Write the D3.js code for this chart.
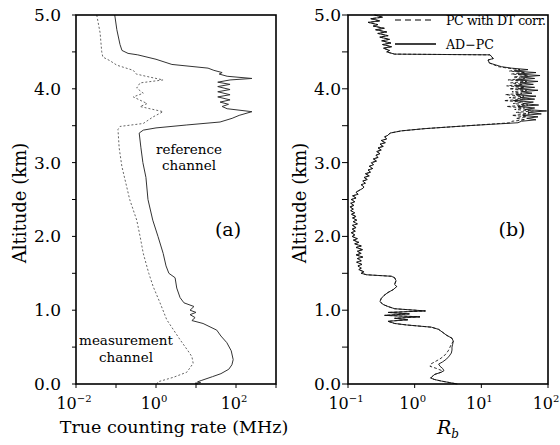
<!DOCTYPE html>
<html><head><meta charset="utf-8">
<script src="https://cdn.jsdelivr.net/npm/d3@7"></script>
<style>body{margin:0;background:#fff}svg{display:block}text{font-family:"DejaVu Serif","Liberation Serif",serif;fill:#000}</style>
</head><body>
<svg id="c" width="560" height="445"></svg>
<script>
// ---------- DATA ----------
// Panel (a): [altitude km, true counting rate MHz]
const referenceChannel = [
[5.00,0.093],[4.80,0.105],[4.60,0.126],[4.52,0.141],[4.48,0.20],[4.46,0.35],[4.40,1.0],[4.33,2.5],
[4.28,20],[4.25,28],[4.22,45],[4.20,38],[4.17,60],[4.14,250],[4.12,71],[4.09,35],[4.06,71],[4.03,35],
[3.99,71],[3.96,35],[3.92,71],[3.89,35],[3.85,71],[3.82,40],[3.79,65],[3.76,45],[3.73,60],[3.69,250],
[3.64,120],[3.60,80],[3.55,40],[3.51,5.9],[3.47,1.0],[3.44,0.48],[3.40,0.38],[3.20,0.42],[3.00,0.47],
[2.80,0.56],[2.50,0.63],[2.22,0.83],[2.00,1.12],[1.77,1.51],[1.60,1.78],[1.50,2.1],[1.44,3.0],[1.30,3.3],
[1.17,4.0],[1.10,5.0],[1.05,8.9],[1.00,7.1],[0.97,10],[0.94,7.1],[0.90,9.5],[0.86,7.9],[0.82,15],
[0.73,33],[0.65,42],[0.56,59],[0.45,76],[0.33,85],[0.26,79],[0.20,66],[0.14,42],[0.10,26],[0.05,14],
[0.03,11],[0.02,13],[0.01,9.5],[0.00,11]
];
const measurementChannel = [
[5.00,0.033],[4.76,0.040],[4.50,0.044],[4.43,0.047],[4.38,0.071],[4.32,0.105],[4.25,0.27],[4.20,0.32],
[4.17,0.56],[4.12,1.5],[4.08,0.40],[4.01,0.33],[3.94,0.48],[3.89,0.27],[3.80,0.60],[3.76,0.40],
[3.69,1.5],[3.62,0.85],[3.53,0.48],[3.49,0.126],[3.45,0.112],[3.20,0.12],[2.95,0.14],[2.50,0.22],
[2.22,0.33],[2.00,0.40],[1.77,0.48],[1.50,0.66],[1.32,0.85],[1.10,1.26],[0.87,1.86],[0.60,4.0],
[0.45,6.3],[0.37,7.9],[0.28,8.5],[0.16,5.9],[0.09,2.7],[0.03,1.12],[0.00,1.05]
];
// Panel (b): [altitude km, Rb]
const adPC = [
[5.00,0.25],[4.97,0.33],[4.95,0.22],[4.92,0.30],[4.90,0.20],[4.87,0.28],[4.85,0.24],[4.82,0.35],[4.80,0.26],
[4.77,0.38],[4.75,0.28],[4.72,0.40],[4.70,0.30],[4.67,0.42],[4.65,0.32],[4.62,0.44],[4.60,0.33],[4.57,0.45],
[4.55,0.34],[4.52,0.42],[4.50,0.38],[4.47,0.50],[4.46,13.5],[4.41,15.1],[4.39,12.6],[4.35,13.2],[4.30,20.0],
[4.28,28.2],[4.26,50.1],[4.24,31.6],[4.22,66.1],[4.20,35.5],[4.18,75.9],[4.16,39.8],[4.14,63.1],[4.12,33.1],
[4.10,70.8],[4.08,38.0],[4.06,60.3],[4.04,31.6],[4.02,63.1],[4.00,35.5],[3.98,70.8],[3.96,39.8],[3.94,57.5],
[3.92,33.1],[3.90,66.1],[3.88,38.0],[3.86,63.1],[3.84,30.2],[3.82,60.3],[3.80,41.7],[3.78,72.4],[3.76,35.5],
[3.74,63.1],[3.72,44.7],[3.70,95.5],[3.68,50.1],[3.66,79.4],[3.64,41.7],[3.62,70.8],[3.60,47.9],[3.58,66.1],
[3.56,39.8],[3.54,35.5],[3.50,6.31],[3.46,1.41],[3.43,0.631],[3.40,0.427],[3.37,0.398],[3.35,0.355],[3.32,0.380],
[3.30,0.316],[3.27,0.363],[3.25,0.302],[3.22,0.339],[3.20,0.282],[3.17,0.316],[3.15,0.269],[3.12,0.302],
[3.10,0.263],[3.07,0.282],[3.05,0.240],[3.02,0.269],[3.00,0.224],[2.97,0.240],[2.95,0.209],[2.92,0.234],
[2.90,0.200],[2.87,0.219],[2.85,0.182],[2.82,0.209],[2.80,0.174],[2.77,0.195],[2.75,0.166],[2.72,0.182],
[2.70,0.158],[2.67,0.174],[2.65,0.166],[2.62,0.145],[2.60,0.132],[2.57,0.141],[2.55,0.117],[2.52,0.132],
[2.50,0.112],[2.47,0.126],[2.45,0.110],[2.42,0.123],[2.40,0.107],[2.37,0.120],[2.35,0.110],[2.32,0.126],
[2.30,0.112],[2.27,0.132],[2.25,0.117],[2.22,0.135],[2.20,0.120],[2.17,0.138],[2.15,0.117],[2.12,0.132],
[2.10,0.115],[2.07,0.129],[2.05,0.112],[2.02,0.126],[2.00,0.115],[1.97,0.138],[1.95,0.120],[1.92,0.145],
[1.90,0.126],[1.87,0.158],[1.85,0.132],[1.82,0.166],[1.80,0.138],[1.77,0.158],[1.75,0.132],[1.72,0.166],
[1.70,0.138],[1.67,0.158],[1.65,0.135],[1.62,0.162],[1.60,0.141],[1.57,0.158],[1.55,0.145],[1.52,0.174],
[1.50,0.158],[1.48,0.191],[1.46,0.447],[1.44,0.501],[1.40,0.525],[1.35,0.501],[1.32,0.537],[1.28,0.479],
[1.24,0.398],[1.20,0.347],[1.16,0.316],[1.12,0.302],[1.08,0.331],[1.05,0.398],[1.02,0.501],[0.99,1.45],
[0.97,0.398],[0.95,0.832],[0.93,0.355],[0.91,1.20],[0.89,0.501],[0.87,0.794],[0.85,0.398],[0.82,0.501],
[0.80,0.759],[0.77,1.78],[0.74,2.29],[0.70,2.63],[0.66,3.02],[0.62,3.63],[0.58,3.80],[0.54,3.72],[0.50,3.63],
[0.46,3.63],[0.42,3.55],[0.38,3.31],[0.34,3.02],[0.30,2.63],[0.27,2.29],[0.24,2.40],[0.21,2.63],[0.18,2.75],
[0.16,2.51],[0.13,2.00],[0.10,1.82],[0.08,1.74],[0.06,2.00],[0.04,2.51],[0.02,3.31],[0.00,4.37]
];
const pcWithDT = [
[5.00,0.25],[4.97,0.33],[4.95,0.22],[4.92,0.30],[4.90,0.20],[4.87,0.28],[4.85,0.24],[4.82,0.35],[4.80,0.26],
[4.77,0.38],[4.75,0.28],[4.72,0.40],[4.70,0.30],[4.67,0.42],[4.65,0.32],[4.62,0.44],[4.60,0.33],[4.57,0.45],
[4.55,0.34],[4.52,0.42],[4.50,0.38],[4.47,0.50],[4.46,13.5],[4.41,15.1],[4.39,12.6],[4.35,13.2],[4.30,18.0],
[4.28,25.1],[4.26,38.0],[4.24,26.3],[4.22,45.7],[4.20,28.2],[4.18,50.1],[4.16,30.2],[4.14,44.7],[4.12,25.1],
[4.10,47.9],[4.08,27.5],[4.06,41.7],[4.04,24.0],[4.02,44.7],[4.00,26.3],[3.98,47.9],[3.96,28.8],[3.94,40.7],
[3.92,22.9],[3.90,43.7],[3.88,26.3],[3.86,45.7],[3.84,21.9],[3.82,41.7],[3.80,30.2],[3.78,50.1],[3.76,24.0],
[3.74,44.7],[3.72,31.6],[3.70,60.3],[3.68,33.1],[3.66,52.5],[3.64,28.8],[3.62,47.9],[3.60,33.1],[3.58,45.7],
[3.56,28.8],[3.54,27.5],[3.50,6.31],[3.46,1.41],[3.43,0.631],[3.40,0.427],[3.37,0.398],[3.35,0.355],[3.32,0.380],
[3.30,0.316],[3.27,0.363],[3.25,0.302],[3.22,0.339],[3.20,0.282],[3.17,0.316],[3.15,0.269],[3.12,0.302],
[3.10,0.263],[3.07,0.282],[3.05,0.240],[3.02,0.269],[3.00,0.224],[2.97,0.240],[2.95,0.209],[2.92,0.234],
[2.90,0.200],[2.87,0.219],[2.85,0.182],[2.82,0.209],[2.80,0.174],[2.77,0.195],[2.75,0.166],[2.72,0.182],
[2.70,0.158],[2.67,0.174],[2.65,0.166],[2.62,0.145],[2.60,0.132],[2.57,0.141],[2.55,0.117],[2.52,0.132],
[2.50,0.112],[2.47,0.126],[2.45,0.110],[2.42,0.123],[2.40,0.107],[2.37,0.120],[2.35,0.110],[2.32,0.126],
[2.30,0.112],[2.27,0.132],[2.25,0.117],[2.22,0.135],[2.20,0.120],[2.17,0.138],[2.15,0.117],[2.12,0.132],
[2.10,0.115],[2.07,0.129],[2.05,0.112],[2.02,0.126],[2.00,0.115],[1.97,0.138],[1.95,0.120],[1.92,0.145],
[1.90,0.126],[1.87,0.158],[1.85,0.132],[1.82,0.166],[1.80,0.138],[1.77,0.158],[1.75,0.132],[1.72,0.166],
[1.70,0.138],[1.67,0.158],[1.65,0.135],[1.62,0.162],[1.60,0.141],[1.57,0.158],[1.55,0.145],[1.52,0.174],
[1.50,0.158],[1.48,0.191],[1.46,0.447],[1.44,0.501],[1.40,0.525],[1.35,0.501],[1.32,0.537],[1.28,0.479],
[1.24,0.398],[1.20,0.347],[1.16,0.316],[1.12,0.302],[1.08,0.331],[1.05,0.398],[1.02,0.501],[0.99,1.45],
[0.97,0.398],[0.95,0.832],[0.93,0.355],[0.91,1.20],[0.89,0.501],[0.87,0.794],[0.85,0.398],[0.82,0.501],
[0.80,0.759],[0.77,1.78],[0.74,2.29],[0.70,2.63],[0.66,3.02],[0.62,3.63],[0.58,3.80],[0.54,3.55],[0.50,3.39],
[0.46,3.24],[0.42,3.02],[0.38,2.75],[0.34,2.40],[0.30,2.00],[0.27,1.74],[0.24,1.70],[0.21,2.14],[0.18,2.57],
[0.16,2.51],[0.13,2.00],[0.10,1.82],[0.08,1.74],[0.06,2.00],[0.04,2.51],[0.02,3.31],[0.00,4.37]
];
const yTicks = [0,0.5,1,1.5,2,2.5,3,3.5,4,4.5,5];
const yTickLabels = ["0.0","1.0","2.0","3.0","4.0","5.0"];
const xTicksA = [1e-2,1e-1,1e0,1e1,1e2,1e3];
const xLabelExpA = [-2,0,2];
const xTicksB = [1e-1,1e0,1e1,1e2];
const xLabelExpB = [-1,0,1,2];
const legendLabels = ["PC with DT corr.","AD\u2212PC"];

// ---------- DRAW ----------
const svg = d3.select("#c");
const plotTop = 15, plotBottom = 384;
const yScale = d3.scaleLinear().domain([0,5]).range([plotBottom, plotTop]);

function panel(x0, x1, domain, ticks, labelExps, tickLen, labelGap){
  const x = d3.scaleLog().domain(domain).range([x0, x1]);
  const g = svg.append("g");
  g.selectAll(".yt").data(yTicks).enter().append("line")
    .attr("x1", x0 - tickLen).attr("x2", x0)
    .attr("y1", d => yScale(d)).attr("y2", d => yScale(d))
    .attr("stroke","#000").attr("stroke-width",1);
  g.selectAll(".yl").data(yTicks.filter(d => Number.isInteger(d))).enter().append("text")
    .attr("x", x0 - labelGap).attr("y", d => yScale(d) + 6)
    .attr("text-anchor","end").attr("font-size",17)
    .text(d => yTickLabels[d]);
  g.selectAll(".xt").data(ticks).enter().append("line")
    .attr("x1", d => x(d)).attr("x2", d => x(d))
    .attr("y1", plotBottom).attr("y2", plotBottom + 4)
    .attr("stroke","#000").attr("stroke-width",1);
  const lab = g.selectAll(".xl").data(labelExps).enter().append("text")
    .attr("x", d => x(Math.pow(10,d)) - 2).attr("y", 409)
    .attr("text-anchor","middle").attr("font-size",16);
  lab.append("tspan").text("10");
  lab.append("tspan").attr("dy",-7).attr("font-size",10).text(d => d < 0 ? "\u2212" + (-d) : String(d));
  return x;
}

function frame(x0, x1){
  svg.append("rect").attr("x",x0).attr("y",plotTop).attr("width",x1-x0).attr("height",plotBottom-plotTop)
    .attr("fill","none").attr("stroke","#000").attr("stroke-width",1.6);
}

// Panel (a)
const xA = panel(76, 276, [1e-2,1e3], xTicksA, xLabelExpA, 4, 15);
const lineA = d3.line().x(d => xA(d[1])).y(d => yScale(d[0]));
svg.append("path").datum(measurementChannel).attr("d", lineA)
  .attr("fill","none").attr("stroke","#666").attr("stroke-width",1).attr("stroke-dasharray","2,2");
svg.append("path").datum(referenceChannel).attr("d", lineA)
  .attr("fill","none").attr("stroke","#333").attr("stroke-width",1);
frame(76, 276);

// Panel (b)
const xB = panel(348, 548, [1e-1,1e2], xTicksB, xLabelExpB, 6, 7);
const lineB = d3.line().x(d => xB(d[1])).y(d => yScale(d[0]));
svg.append("path").datum(pcWithDT).attr("d", lineB)
  .attr("fill","none").attr("stroke","#000").attr("stroke-width",0.8).attr("stroke-dasharray","3,2");
svg.append("path").datum(adPC).attr("d", lineB)
  .attr("fill","none").attr("stroke","#111").attr("stroke-width",0.9);
frame(348, 548);

// Legend
svg.append("line").attr("x1",395).attr("x2",435).attr("y1",20).attr("y2",20)
  .attr("stroke","#000").attr("stroke-width",1.2).attr("stroke-dasharray","6,4");
svg.append("line").attr("x1",395).attr("x2",436).attr("y1",44).attr("y2",44)
  .attr("stroke","#000").attr("stroke-width",1.3);
svg.append("text").attr("x",446).attr("y",25).attr("font-size",12.6).attr("letter-spacing",-0.4).text(legendLabels[0]);
svg.append("text").attr("x",446).attr("y",49).attr("font-size",12.6).text(legendLabels[1]);

// Axis titles
svg.append("text").attr("transform","translate(26,203) rotate(-90)").attr("text-anchor","middle")
  .attr("font-size",18).text("Altitude (km)");
svg.append("text").attr("transform","translate(306,203) rotate(-90)").attr("text-anchor","middle")
  .attr("font-size",18).text("Altitude (km)");
svg.append("text").attr("x",174).attr("y",433).attr("text-anchor","middle").attr("font-size",17.5)
  .text("True counting rate (MHz)");
const rb = svg.append("text").attr("x",448).attr("y",434).attr("text-anchor","middle").attr("font-size",19)
  .attr("font-style","italic");
rb.append("tspan").text("R");
rb.append("tspan").attr("dy",4).attr("font-size",12).text("b");

// Annotations
svg.append("text").attr("x",228).attr("y",236).attr("text-anchor","middle").attr("font-size",19).text("(a)");
svg.append("text").attr("x",512).attr("y",236).attr("text-anchor","middle").attr("font-size",19).text("(b)");
svg.append("text").attr("x",189).attr("y",154).attr("text-anchor","middle").attr("font-size",13.5).text("reference");
svg.append("text").attr("x",189).attr("y",170).attr("text-anchor","middle").attr("font-size",13.5).text("channel");
svg.append("text").attr("x",126).attr("y",345).attr("text-anchor","middle").attr("font-size",13.5).text("measurement");
svg.append("text").attr("x",126).attr("y",362).attr("text-anchor","middle").attr("font-size",13.5).text("channel");
</script>
</body></html>
